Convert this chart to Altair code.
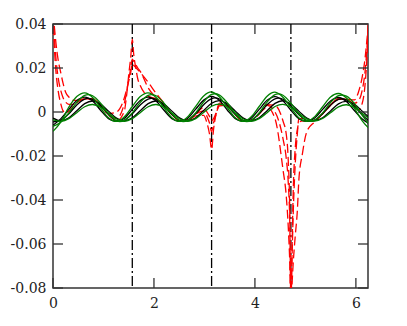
import altair as alt
import pandas as pd

# ---------------- data ----------------
X = [0.0, 0.157, 0.314, 0.471, 0.628, 0.785, 0.942, 1.100, 1.257, 1.414,
     1.571, 1.728, 1.885, 2.042, 2.199, 2.356, 2.513, 2.670, 2.827, 2.985,
     3.142, 3.299, 3.456, 3.613, 3.770, 3.927, 4.084, 4.241, 4.398, 4.555,
     4.712, 4.869, 5.027, 5.184, 5.341, 5.498, 5.655, 5.812, 5.969, 6.126, 6.283]

black1 = [-0.0045, -0.0037, -0.0008, 0.0032, 0.0059, 0.0057, 0.0028, -0.0012,
          -0.0039, -0.0037, -0.0008, 0.0032, 0.0059, 0.0057, 0.0028, -0.0012,
          -0.0039, -0.0037, -0.0008, 0.0033, 0.0061, 0.0059, 0.0028, -0.0012,
          -0.0039, -0.0037, -0.0008, 0.0033, 0.0060, 0.0058, 0.0028, -0.0012,
          -0.0039, -0.0037, -0.0008, 0.0031, 0.0057, 0.0055, 0.0027, -0.0013,
          -0.0045]
black2 = [-0.0028, -0.0040, -0.0026, 0.0006, 0.0038, 0.0050, 0.0036, 0.0004,
          -0.0028, -0.0040, -0.0026, 0.0006, 0.0038, 0.0050, 0.0036, 0.0004,
          -0.0028, -0.0040, -0.0026, 0.0007, 0.0040, 0.0052, 0.0037, 0.0004,
          -0.0028, -0.0040, -0.0026, 0.0006, 0.0039, 0.0051, 0.0036, 0.0004,
          -0.0027, -0.0039, -0.0026, 0.0005, 0.0037, 0.0048, 0.0035, 0.0004,
          -0.0030]
black3 = [-0.0060, -0.0030, 0.0012, 0.0052, 0.0068, 0.0050, 0.0008, -0.0030,
          -0.0042, -0.0028, 0.0012, 0.0052, 0.0068, 0.0050, 0.0008, -0.0030,
          -0.0042, -0.0028, 0.0013, 0.0054, 0.0071, 0.0052, 0.0008, -0.0030,
          -0.0042, -0.0028, 0.0012, 0.0053, 0.0070, 0.0051, 0.0008, -0.0030,
          -0.0041, -0.0027, 0.0012, 0.0050, 0.0066, 0.0048, 0.0007, -0.0032,
          -0.0055]
green1 = [-0.0065, -0.0045, -0.0004, 0.0044, 0.0076, 0.0074, 0.0040, -0.0008,
          -0.0040, -0.0038, -0.0004, 0.0044, 0.0076, 0.0074, 0.0040, -0.0008,
          -0.0040, -0.0038, -0.0004, 0.0046, 0.0080, 0.0077, 0.0041, -0.0008,
          -0.0040, -0.0038, -0.0004, 0.0045, 0.0079, 0.0076, 0.0040, -0.0008,
          -0.0039, -0.0037, -0.0004, 0.0043, 0.0074, 0.0072, 0.0039, -0.0015,
          -0.0062]
green2 = [-0.0088, -0.0045, 0.0022, 0.0070, 0.0087, 0.0066, 0.0019, -0.0026,
          -0.0043, -0.0022, 0.0025, 0.0070, 0.0087, 0.0066, 0.0019, -0.0026,
          -0.0043, -0.0022, 0.0026, 0.0073, 0.0091, 0.0068, 0.0019, -0.0026,
          -0.0043, -0.0022, 0.0025, 0.0072, 0.0090, 0.0067, 0.0019, -0.0026,
          -0.0042, -0.0021, 0.0024, 0.0068, 0.0084, 0.0064, 0.0018, -0.0040,
          -0.0080]
green3 = [-0.0036, -0.0042, -0.0030, -0.0003, 0.0024, 0.0034, 0.0022, -0.0005,
          -0.0032, -0.0042, -0.0030, -0.0003, 0.0024, 0.0034, 0.0022, -0.0005,
          -0.0032, -0.0042, -0.0030, -0.0002, 0.0026, 0.0036, 0.0023, -0.0005,
          -0.0032, -0.0042, -0.0030, -0.0003, 0.0025, 0.0035, 0.0022, -0.0005,
          -0.0031, -0.0041, -0.0029, -0.0003, 0.0023, 0.0033, 0.0021, -0.0006,
          -0.0035]

RX = [0.0, 0.03, 0.06, 0.10, 0.157, 0.20, 0.25, 0.314, 0.40, 0.471,
      0.628, 0.785, 0.942, 1.100, 1.257, 1.414, 1.45, 1.51, 1.54, 1.571,
      1.60, 1.64, 1.68, 1.728, 1.885, 2.042, 2.199, 2.356, 2.513, 2.670,
      2.827, 2.985, 3.05, 3.10, 3.142, 3.18, 3.23, 3.299, 3.456, 3.613,
      3.770, 3.927, 4.084, 4.241, 4.398, 4.555, 4.62, 4.66, 4.69, 4.712,
      4.73, 4.76, 4.80, 4.84, 4.87, 4.94, 5.027, 5.184, 5.341, 5.498,
      5.655, 5.812, 5.969, 6.05, 6.126, 6.18, 6.22, 6.25, 6.283]

red1 = [0.045, 0.028, 0.018, 0.010, 0.0035, 0.0005, -0.0005, 0.0003, 0.0025, 0.0042,
        0.0060, 0.0058, 0.0028, -0.0012, -0.0040, 0.0005, 0.0060, 0.0190, 0.0250, 0.0330,
        0.0260, 0.0200, 0.0150, 0.0120, 0.0072, 0.0060, 0.0028, -0.0012, -0.0040, -0.0038,
        -0.0018, -0.0015, -0.0050, -0.0100, -0.0170, -0.0080, -0.0010, 0.0040, 0.0028, -0.0012,
        -0.0040, -0.0038, -0.0008, 0.0033, 0.0030, -0.0040, -0.0100, -0.0220, -0.0450, -0.0950,
        -0.0700, -0.0350, -0.0160, -0.0080, -0.0050, -0.0040, -0.0042, -0.0038, -0.0008, 0.0032,
        0.0059, 0.0057, 0.0028, 0.0010, 0.0040, 0.0120, 0.0250, 0.0400, 0.0450]
red2 = [0.045, 0.033, 0.024, 0.016, 0.0095, 0.0065, 0.0045, 0.0035, 0.0035, 0.0045,
        0.0060, 0.0059, 0.0029, -0.0011, -0.0030, 0.0040, 0.0080, 0.0160, 0.0200, 0.0240,
        0.0230, 0.0215, 0.0200, 0.0185, 0.0110, 0.0065, 0.0033, -0.0011, -0.0040, -0.0038,
        -0.0010, 0.0005, -0.0020, -0.0050, -0.0090, -0.0050, -0.0010, 0.0032, 0.0029, -0.0012,
        -0.0040, -0.0038, -0.0008, 0.0030, 0.0000, -0.0120, -0.0210, -0.0320, -0.0500, -0.0850,
        -0.0700, -0.0450, -0.0230, -0.0100, -0.0030, -0.0030, -0.0042, -0.0038, -0.0008, 0.0032,
        0.0059, 0.0058, 0.0040, 0.0050, 0.0100, 0.0180, 0.0290, 0.0400, 0.0450]
red3 = [0.045, 0.038, 0.031, 0.024, 0.0175, 0.013, 0.009, 0.0068, 0.0053, 0.0053,
        0.0060, 0.0060, 0.0030, -0.0008, 0.0000, 0.0065, 0.0095, 0.0150, 0.0180, 0.0220,
        0.0212, 0.0202, 0.0192, 0.0180, 0.0135, 0.0085, 0.0040, -0.0008, -0.0038, -0.0036,
        -0.0008, 0.0020, 0.0000, -0.0020, -0.0040, -0.0030, -0.0005, 0.0028, 0.0030, -0.0011,
        -0.0039, -0.0037, -0.0006, 0.0020, -0.0030, -0.0260, -0.0380, -0.0520, -0.0680, -0.0850,
        -0.0800, -0.0680, -0.0560, -0.0450, -0.0310, -0.0190, -0.0090, -0.0045, -0.0008, 0.0031,
        0.0058, 0.0058, 0.0055, 0.0090, 0.0160, 0.0240, 0.0330, 0.0400, 0.0450]

VLINES = [1.5708, 3.1416, 4.7124]
X_TICKS = [0, 2, 4, 6]
Y_TICKS = [-0.08, -0.06, -0.04, -0.02, 0, 0.02, 0.04]

# ---------------- tables ----------------
def long(xs, named):
    rows = []
    for name, ys in named.items():
        for xv, yv in zip(xs, ys):
            rows.append({"series": name, "x": xv, "y": yv})
    return pd.DataFrame(rows)

black_df = long(X, {"b1": black1, "b2": black2, "b3": black3})
green_df = long(X, {"g1": green1, "g2": green2, "g3": green3})
red_df = long(RX, {"r1": red1, "r2": red2, "r3": red3})
vline_df = pd.DataFrame({"x": VLINES})
xt_df = pd.DataFrame({"v": X_TICKS})
yt_df = pd.DataFrame({"v": Y_TICKS})

W, H = 315, 264
FONT = "DejaVu Serif"
FSIZE = 14
FRAME = "#333333"

xs = alt.Scale(domain=[0, 6.24], nice=False, zero=False)
ys = alt.Scale(domain=[-0.08, 0.04], nice=False, zero=False)

xaxis = alt.Axis(values=X_TICKS, title=None, labelPadding=8, labelFlush=False,
                 labelFont=FONT, labelFontSize=FSIZE, labelFontWeight="normal")
yaxis = alt.Axis(values=Y_TICKS, title=None, labelPadding=7,
                 labelFont=FONT, labelFontSize=FSIZE, labelFontWeight="normal",
                 labelExpr="datum.value == 0 ? '0' : (datum.value < 0 ? '-' : '') + format(abs(datum.value), '.2f')")

X_ENC = lambda f: alt.X(f, scale=xs, axis=xaxis)
Y_ENC = lambda f: alt.Y(f, scale=ys, axis=yaxis)

vlines = alt.Chart(vline_df).mark_rule(color="black", strokeWidth=1.3,
                                        strokeDash=[10, 3, 2, 3]).encode(
    x=X_ENC("x:Q"))

red = alt.Chart(red_df).mark_line(color="#ff0000", strokeWidth=1.3, strokeDash=[9, 4],
                                  clip=True, interpolate="monotone").encode(
    x=X_ENC("x:Q"), y=Y_ENC("y:Q"), detail="series:N")

black = alt.Chart(black_df).mark_line(color="black", strokeWidth=1.3, clip=True,
                                      interpolate="cardinal").encode(
    x=X_ENC("x:Q"), y=Y_ENC("y:Q"), detail="series:N")

green = alt.Chart(green_df).mark_line(color="#008000", strokeWidth=1.3, clip=True,
                                      interpolate="cardinal").encode(
    x=X_ENC("x:Q"), y=Y_ENC("y:Q"), detail="series:N")

tick_style = dict(color=FRAME, strokeWidth=1.3)
yl = alt.Chart(yt_df).mark_rule(**tick_style).encode(
    y=Y_ENC("v:Q"), x=alt.value(0), x2=alt.value(10))
yr = alt.Chart(yt_df).mark_rule(**tick_style).encode(
    y=Y_ENC("v:Q"), x=alt.value(W - 10), x2=alt.value(W))
xb = alt.Chart(xt_df).mark_rule(**tick_style).encode(
    x=X_ENC("v:Q"), y=alt.value(H - 10), y2=alt.value(H))
xtp = alt.Chart(xt_df).mark_rule(**tick_style).encode(
    x=X_ENC("v:Q"), y=alt.value(0), y2=alt.value(10))

chart = alt.layer(vlines, red, black, green, yl, yr, xb, xtp).properties(
    width=W, height=H,
    autosize=alt.AutoSizeParams(type="none"),
    padding={"left": 45, "top": 16, "right": 30, "bottom": 30},
    background="white",
).configure_view(
    stroke=FRAME, strokeWidth=1.5
).configure_axis(
    labelFont=FONT, labelFontSize=FSIZE, labelColor="#222222",
    ticks=False, domain=False, grid=False
)

chart.save("out.html", embed_options={"renderer": "svg", "actions": False})
